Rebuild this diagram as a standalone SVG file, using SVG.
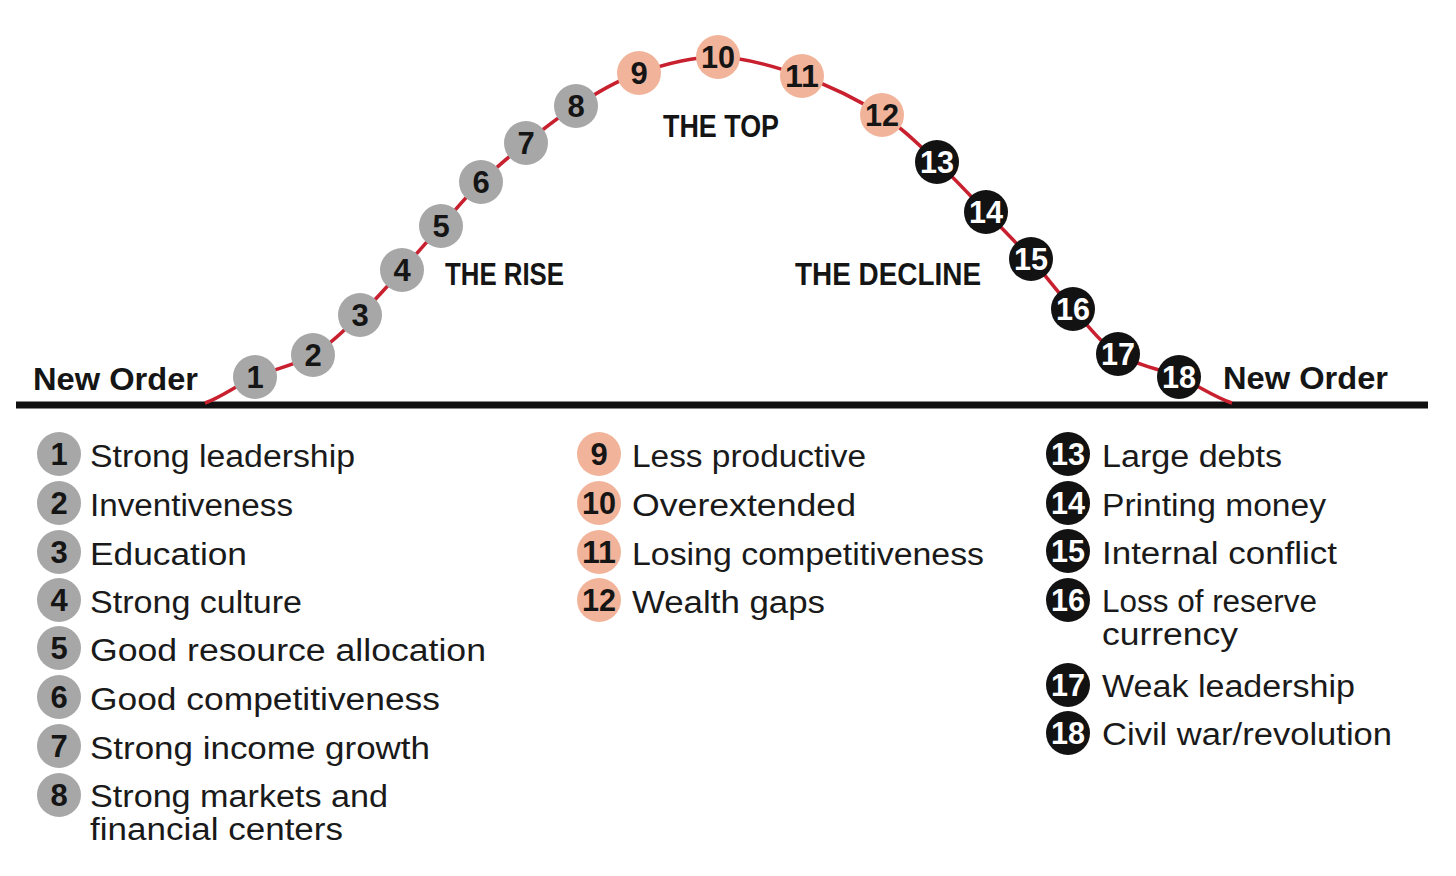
<svg xmlns="http://www.w3.org/2000/svg" width="1456" height="876" viewBox="0 0 1456 876">
<style>
.bg{fill:#ffffff}
.curve{fill:none;stroke:#c8202f;stroke-width:3.5}
.base{stroke:#111111;stroke-width:7}
.g{fill:#a7a7a7}
.s{fill:#f1b49a}
.k{fill:#121212}
.num{font-family:"Liberation Sans",Arial,sans-serif;font-weight:bold;font-size:31px;text-anchor:middle;fill:#151515}
.numw{fill:#ffffff}
.head{font-family:"Liberation Sans",Arial,sans-serif;font-weight:bold;font-size:32px;fill:#151515}
.leg{font-family:"Liberation Sans",Arial,sans-serif;font-size:31px;fill:#1a1a1a}
</style>
<rect class="bg" x="0" y="0" width="1456" height="876"/>
<g id="connectors">
<line class="base" x1="16" y1="405" x2="1428" y2="405"/>
<path class="curve" d="M205,403 C221.7,397.2 237,385 255,377 C273,369 295.5,365.3 313,355 C330.5,344.7 345.2,329.2 360,315 C374.8,300.8 388.5,284.8 402,270 C415.5,255.2 427.8,240.7 441,226 C454.2,211.3 466.8,195.8 481,182 C495.2,168.2 510.2,155.7 526,143 C541.8,130.3 557.2,117.7 576,106 C594.8,94.3 615.3,81.2 639,73 C662.7,64.8 690.8,56.5 718,57 C745.2,57.5 774.7,66.3 802,76 C829.3,85.7 859.5,100.7 882,115 C904.5,129.3 919.7,145.8 937,162 C954.3,178.2 970.3,195.8 986,212 C1001.7,228.2 1016.5,242.8 1031,259 C1045.5,275.2 1058.5,293.2 1073,309 C1087.5,324.8 1100.3,342.7 1118,354 C1135.7,365.3 1160,368.8 1179,377 C1198,385.2 1214.3,397.2 1232,403"/>
</g>
<g id="labels">
<text class="head" x="33" y="390" textLength="165" lengthAdjust="spacingAndGlyphs">New Order</text>
<text class="head" x="1223" y="389" textLength="165" lengthAdjust="spacingAndGlyphs">New Order</text>
<text class="head" x="445" y="285" textLength="119" lengthAdjust="spacingAndGlyphs">THE RISE</text>
<text class="head" x="663" y="137" textLength="116" lengthAdjust="spacingAndGlyphs">THE TOP</text>
<text class="head" x="795" y="285" textLength="186" lengthAdjust="spacingAndGlyphs">THE DECLINE</text>
</g>
<g id="curve-nodes">
<g id="c1"><circle class="g" cx="255" cy="377" r="22"/><text class="num" x="255" y="388">1</text></g>
<g id="c2"><circle class="g" cx="313" cy="355" r="22"/><text class="num" x="313" y="366">2</text></g>
<g id="c3"><circle class="g" cx="360" cy="315" r="22"/><text class="num" x="360" y="326">3</text></g>
<g id="c4"><circle class="g" cx="402" cy="270" r="22"/><text class="num" x="402" y="281">4</text></g>
<g id="c5"><circle class="g" cx="441" cy="226" r="22"/><text class="num" x="441" y="237">5</text></g>
<g id="c6"><circle class="g" cx="481" cy="182" r="22"/><text class="num" x="481" y="193">6</text></g>
<g id="c7"><circle class="g" cx="526" cy="143" r="22"/><text class="num" x="526" y="154">7</text></g>
<g id="c8"><circle class="g" cx="576" cy="106" r="22"/><text class="num" x="576" y="117">8</text></g>
<g id="c9"><circle class="s" cx="639" cy="73" r="22"/><text class="num" x="639" y="84">9</text></g>
<g id="c10"><circle class="s" cx="718" cy="57" r="22"/><text class="num" x="718" y="68" textLength="34" lengthAdjust="spacingAndGlyphs">10</text></g>
<g id="c11"><circle class="s" cx="802" cy="76" r="22"/><text class="num" x="802" y="87" textLength="34" lengthAdjust="spacingAndGlyphs">11</text></g>
<g id="c12"><circle class="s" cx="882" cy="115" r="22"/><text class="num" x="882" y="126" textLength="34" lengthAdjust="spacingAndGlyphs">12</text></g>
<g id="c13"><circle class="k" cx="937" cy="162" r="22"/><text class="num numw" x="937" y="173" textLength="34" lengthAdjust="spacingAndGlyphs">13</text></g>
<g id="c14"><circle class="k" cx="986" cy="212" r="22"/><text class="num numw" x="986" y="223" textLength="34" lengthAdjust="spacingAndGlyphs">14</text></g>
<g id="c15"><circle class="k" cx="1031" cy="259" r="22"/><text class="num numw" x="1031" y="270" textLength="34" lengthAdjust="spacingAndGlyphs">15</text></g>
<g id="c16"><circle class="k" cx="1073" cy="309" r="22"/><text class="num numw" x="1073" y="320" textLength="34" lengthAdjust="spacingAndGlyphs">16</text></g>
<g id="c17"><circle class="k" cx="1118" cy="354" r="22"/><text class="num numw" x="1118" y="365" textLength="34" lengthAdjust="spacingAndGlyphs">17</text></g>
<g id="c18"><circle class="k" cx="1179" cy="377" r="22"/><text class="num numw" x="1179" y="388" textLength="34" lengthAdjust="spacingAndGlyphs">18</text></g>
</g>
<g id="legend">
<g id="l1"><circle class="g" cx="59" cy="454" r="22"/><text class="num" x="59" y="465">1</text><text class="leg" x="90" y="467" textLength="265" lengthAdjust="spacingAndGlyphs">Strong leadership</text></g>
<g id="l2"><circle class="g" cx="59" cy="503" r="22"/><text class="num" x="59" y="514">2</text><text class="leg" x="90" y="516" textLength="203" lengthAdjust="spacingAndGlyphs">Inventiveness</text></g>
<g id="l3"><circle class="g" cx="59" cy="552" r="22"/><text class="num" x="59" y="563">3</text><text class="leg" x="90" y="565" textLength="157" lengthAdjust="spacingAndGlyphs">Education</text></g>
<g id="l4"><circle class="g" cx="59" cy="600" r="22"/><text class="num" x="59" y="611">4</text><text class="leg" x="90" y="613" textLength="212" lengthAdjust="spacingAndGlyphs">Strong culture</text></g>
<g id="l5"><circle class="g" cx="59" cy="648" r="22"/><text class="num" x="59" y="659">5</text><text class="leg" x="90" y="661" textLength="396" lengthAdjust="spacingAndGlyphs">Good resource allocation</text></g>
<g id="l6"><circle class="g" cx="59" cy="697" r="22"/><text class="num" x="59" y="708">6</text><text class="leg" x="90" y="710" textLength="350" lengthAdjust="spacingAndGlyphs">Good competitiveness</text></g>
<g id="l7"><circle class="g" cx="59" cy="746" r="22"/><text class="num" x="59" y="757">7</text><text class="leg" x="90" y="759" textLength="340" lengthAdjust="spacingAndGlyphs">Strong income growth</text></g>
<g id="l8"><circle class="g" cx="59" cy="795" r="22"/><text class="num" x="59" y="806">8</text><text class="leg" x="90" y="807" textLength="298" lengthAdjust="spacingAndGlyphs">Strong markets and</text><text class="leg" x="90" y="840" textLength="253" lengthAdjust="spacingAndGlyphs">financial centers</text></g>
<g id="l9"><circle class="s" cx="599" cy="454" r="22"/><text class="num" x="599" y="465">9</text><text class="leg" x="632" y="467" textLength="234" lengthAdjust="spacingAndGlyphs">Less productive</text></g>
<g id="l10"><circle class="s" cx="599" cy="503" r="22"/><text class="num" x="599" y="514" textLength="34" lengthAdjust="spacingAndGlyphs">10</text><text class="leg" x="632" y="516" textLength="224" lengthAdjust="spacingAndGlyphs">Overextended</text></g>
<g id="l11"><circle class="s" cx="599" cy="552" r="22"/><text class="num" x="599" y="563" textLength="34" lengthAdjust="spacingAndGlyphs">11</text><text class="leg" x="632" y="565" textLength="352" lengthAdjust="spacingAndGlyphs">Losing competitiveness</text></g>
<g id="l12"><circle class="s" cx="599" cy="600" r="22"/><text class="num" x="599" y="611" textLength="34" lengthAdjust="spacingAndGlyphs">12</text><text class="leg" x="632" y="613" textLength="193" lengthAdjust="spacingAndGlyphs">Wealth gaps</text></g>
<g id="l13"><circle class="k" cx="1068" cy="454" r="22"/><text class="num numw" x="1068" y="465" textLength="34" lengthAdjust="spacingAndGlyphs">13</text><text class="leg" x="1102" y="467" textLength="180" lengthAdjust="spacingAndGlyphs">Large debts</text></g>
<g id="l14"><circle class="k" cx="1068" cy="503" r="22"/><text class="num numw" x="1068" y="514" textLength="34" lengthAdjust="spacingAndGlyphs">14</text><text class="leg" x="1102" y="516" textLength="224" lengthAdjust="spacingAndGlyphs">Printing money</text></g>
<g id="l15"><circle class="k" cx="1068" cy="551" r="22"/><text class="num numw" x="1068" y="562" textLength="34" lengthAdjust="spacingAndGlyphs">15</text><text class="leg" x="1102" y="564" textLength="235" lengthAdjust="spacingAndGlyphs">Internal conflict</text></g>
<g id="l16"><circle class="k" cx="1068" cy="600" r="22"/><text class="num numw" x="1068" y="611" textLength="34" lengthAdjust="spacingAndGlyphs">16</text><text class="leg" x="1102" y="612" textLength="215" lengthAdjust="spacingAndGlyphs">Loss of reserve</text><text class="leg" x="1102" y="645" textLength="136" lengthAdjust="spacingAndGlyphs">currency</text></g>
<g id="l17"><circle class="k" cx="1068" cy="685" r="22"/><text class="num numw" x="1068" y="696" textLength="34" lengthAdjust="spacingAndGlyphs">17</text><text class="leg" x="1102" y="697" textLength="253" lengthAdjust="spacingAndGlyphs">Weak leadership</text></g>
<g id="l18"><circle class="k" cx="1068" cy="733" r="22"/><text class="num numw" x="1068" y="744" textLength="34" lengthAdjust="spacingAndGlyphs">18</text><text class="leg" x="1102" y="745" textLength="290" lengthAdjust="spacingAndGlyphs">Civil war/revolution</text></g>
</g>
</svg>
